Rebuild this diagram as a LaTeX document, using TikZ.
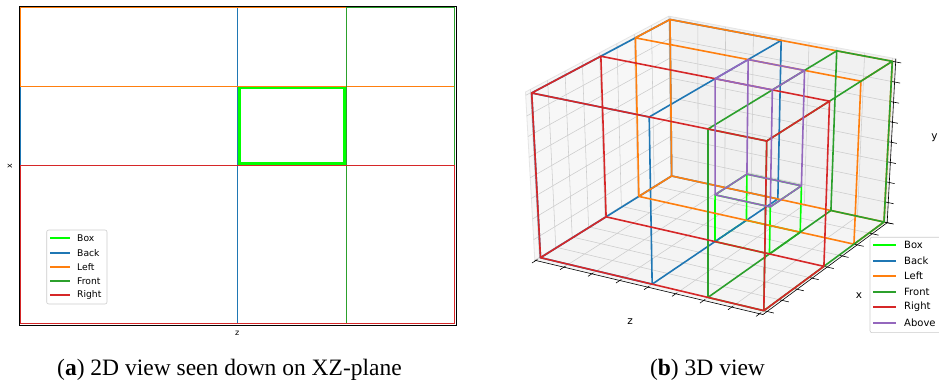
\documentclass[tikz,border=0pt]{standalone}
\usepackage{fontspec}
\setmainfont{DejaVu Sans}
\newfontfamily\capfont{Liberation Serif}
\definecolor{tabblue}{HTML}{1F77B4}
\definecolor{taborange}{HTML}{FF7F0E}
\definecolor{tabgreen}{HTML}{2CA02C}
\definecolor{tabred}{HTML}{D62728}
\definecolor{tabpurple}{HTML}{9467BD}
\definecolor{boxlime}{HTML}{00FF00}
\definecolor{paneL}{gray}{0.97}
\definecolor{paneB}{gray}{0.945}
\definecolor{paneF}{gray}{0.958}
\definecolor{gridc}{gray}{0.8}
\definecolor{legc}{gray}{0.8}

% trilinear mapping of the 3D data cube (u=z/4, v=x/4, w=y/H) to the page
\newcommand{\triPt}[4]{%
  \pgfmathsetmacro{\trU}{#2}%
  \pgfmathsetmacro{\trV}{#3}%
  \pgfmathsetmacro{\trW}{#4}%
  \pgfmathsetmacro{\trX}{(1-\trW)*((1-\trV)*((1-\trU)*671.67+\trU*884)+\trV*((1-\trU)*540.5+\trU*763.8))+\trW*((1-\trV)*((1-\trU)*670+\trU*892.3)+\trV*((1-\trU)*531.7+\trU*766.7))}%
  \pgfmathsetmacro{\trY}{(1-\trW)*((1-\trV)*((1-\trU)*206+\trU*160)+\trV*((1-\trU)*124.33+\trU*71.33))+\trW*((1-\trV)*((1-\trU)*362.5+\trU*320.7)+\trV*((1-\trU)*289+\trU*241))}%
  \coordinate (#1) at (\trX,\trY);}

\newcommand{\drawCuboid}[7]{%
  \triPt{qa}{#2}{#4}{#6}\triPt{qb}{#3}{#4}{#6}\triPt{qc}{#3}{#5}{#6}\triPt{qd}{#2}{#5}{#6}%
  \triPt{qe}{#2}{#4}{#7}\triPt{qf}{#3}{#4}{#7}\triPt{qg}{#3}{#5}{#7}\triPt{qh}{#2}{#5}{#7}%
  \draw[#1] (qa)--(qb)--(qc)--(qd)--cycle (qe)--(qf)--(qg)--(qh)--cycle
            (qa)--(qe) (qb)--(qf) (qc)--(qg) (qd)--(qh);}

\tikzset{
  flatline/.style={line width=1.4pt},
  boxline/.style={line width=3pt, draw=boxlime},
  spaceline/.style={line width=1.6pt, line join=round, line cap=round},
  gridln/.style={draw=gridc, line width=0.55pt},
  axisln/.style={draw=black, line width=0.6pt},
  legframe/.style={draw=legc, fill=white, fill opacity=0.8, rounded corners=2pt, line width=0.6pt},
  legline/.style={line width=2pt},
  legtxtA/.style={font=\fontsize{9.2}{10}\selectfont, anchor=west, inner sep=0pt},
  legtxtB/.style={font=\fontsize{10}{11}\selectfont, anchor=west, inner sep=0pt},
  axlabA/.style={font=\fontsize{8}{9}\selectfont, inner sep=0pt},
  axlabB/.style={font=\fontsize{10.5}{11}\selectfont, inner sep=0pt},
  captxt/.style={font=\capfont\fontsize{23.5}{26}\selectfont, anchor=base, inner sep=0pt},
}

\begin{document}
\begin{tikzpicture}[x=1pt,y=1pt]
\useasboundingbox[fill=white] (0,0) rectangle (939,382);

% ================= (a) 2D view =================
\draw[boxline] (239,294) rectangle (344,218);
\draw[flatline, draw=tabblue]   (20.5,374.5) rectangle (237.5,58.5);
\draw[flatline, draw=taborange] (20.5,374.5) rectangle (454.5,295.5);
\draw[flatline, draw=tabgreen]  (346.5,374.5) rectangle (454.5,58.5);
\draw[flatline, draw=tabred]    (20.5,216.5) rectangle (454.5,58.5);
\draw[line width=0.8pt, draw=black] (19,376) rectangle (456,57);
\node[axlabA, rotate=90] (xlabA) at (10,216) {x};
\node[axlabA] (zlabA) at (237.3,48.5) {z};

% legend (a)
\draw[legframe] (46.7,152) rectangle (107,78);
\foreach \yy/\lgcol/\lgname [count=\i] in {144/boxlime/Box,129/tabblue/Back,115/taborange/Left,101/tabgreen/Front,87/tabred/Right}{
  \draw[legline, draw=\lgcol] (50,\yy) -- (70,\yy);
  \node[legtxtA] (legA\i) at (77,\yy) {\lgname};
}

% ================= (b) 3D view =================
\def\uMin{-0.005}\def\uMax{1.015}\def\vMax{1.035}\def\wMax{1.02}
% panes
\triPt{pA}{\uMin}{\vMax}{0}\triPt{pB}{\uMax}{\vMax}{0}\triPt{pC}{\uMax}{0}{0}\triPt{pD}{\uMin}{0}{0}
\triPt{pAt}{\uMin}{\vMax}{\wMax}\triPt{pCt}{\uMax}{0}{\wMax}\triPt{pDt}{\uMin}{0}{\wMax}
\fill[paneL] (pD)--(pA)--(pAt)--(pDt)--cycle;
\fill[paneB] (pD)--(pC)--(pCt)--(pDt)--cycle;
\fill[paneF] (pA)--(pB)--(pC)--(pD)--cycle;
\draw[draw=gray!20, line width=0.8pt] (pA)--(pAt)--(pDt)--(pCt)--(pC);
% grid lines
\foreach \k in {0,...,8}{
  \pgfmathsetmacro{\g}{\k/8}
  % left pane
  \triPt{g1}{\uMin}{\g}{0}\triPt{g2}{\uMin}{\g}{\wMax}\draw[gridln] (g1)--(g2);
  \triPt{g1}{\uMin}{0}{\g}\triPt{g2}{\uMin}{\vMax}{\g}\draw[gridln] (g1)--(g2);
  % back pane
  \triPt{g1}{\g}{0}{0}\triPt{g2}{\g}{0}{\wMax}\draw[gridln] (g1)--(g2);
  \triPt{g1}{\uMin}{0}{\g}\triPt{g2}{\uMax}{0}{\g}\draw[gridln] (g1)--(g2);
  % floor
  \triPt{g1}{\g}{0}{0}\triPt{g2}{\g}{\vMax}{0}\draw[gridln] (g1)--(g2);
  \triPt{g1}{\uMin}{\g}{0}\triPt{g2}{\uMax}{\g}{0}\draw[gridln] (g1)--(g2);
}
% axis lines and ticks
\draw[axisln] (pA)--(pB)--(pC)--(pCt);
\foreach \k in {0,...,8}{
  \pgfmathsetmacro{\g}{\k/8}
  \triPt{t1}{\g}{\vMax-0.012}{0}\triPt{t2}{\g}{\vMax+0.03}{0}\draw[axisln] (t1)--(t2);
  \triPt{t1}{\uMax-0.012}{\g}{0}\triPt{t2}{\uMax+0.03}{\g}{0}\draw[axisln] (t1)--(t2);
  \triPt{t1}{\uMax-0.018}{0}{\g}\triPt{t2}{\uMax+0.025}{0}{\g}\draw[axisln] (t1)--(t2);
}
% data boxes
\drawCuboid{spaceline, draw=boxlime}{0.5}{0.75}{0.25}{0.5}{0}{0.287}
\drawCuboid{spaceline, draw=tabblue}{0}{0.5}{0}{1}{0}{1}
\drawCuboid{spaceline, draw=taborange}{0}{1}{0}{0.25}{0}{1}
\drawCuboid{spaceline, draw=tabgreen}{0.75}{1}{0}{1}{0}{1}
\drawCuboid{spaceline, draw=tabred}{0}{1}{0.5}{1}{0}{1}
\drawCuboid{spaceline, draw=tabpurple}{0.5}{0.75}{0.25}{0.5}{0.287}{1}

\node[axlabB] (zlabB) at (630,60.3) {z};
\node[axlabB] (xlabB) at (859,86) {x};
\node[axlabB] (ylabB) at (934.5,244) {y};

% legend (b)
\draw[legframe] (870,144.7) rectangle (946,49.3);
\foreach \yy/\lgcol/\lgname [count=\i] in {137/boxlime/Box,121/tabblue/Back,106/taborange/Left,90/tabgreen/Front,75/tabred/Right,59/tabpurple/Above}{
  \draw[legline, draw=\lgcol] (873.3,\yy) -- (896,\yy);
  \node[legtxtB] (legB\i) at (904,\yy) {\lgname};
}

% captions
\node[captxt] (capA) at (229.5,6) {(\textbf{a}) 2D view seen down on XZ-plane};
\node[captxt] (capB) at (707.5,6) {(\textbf{b}) 3D view};
\end{tikzpicture}
\end{document}
